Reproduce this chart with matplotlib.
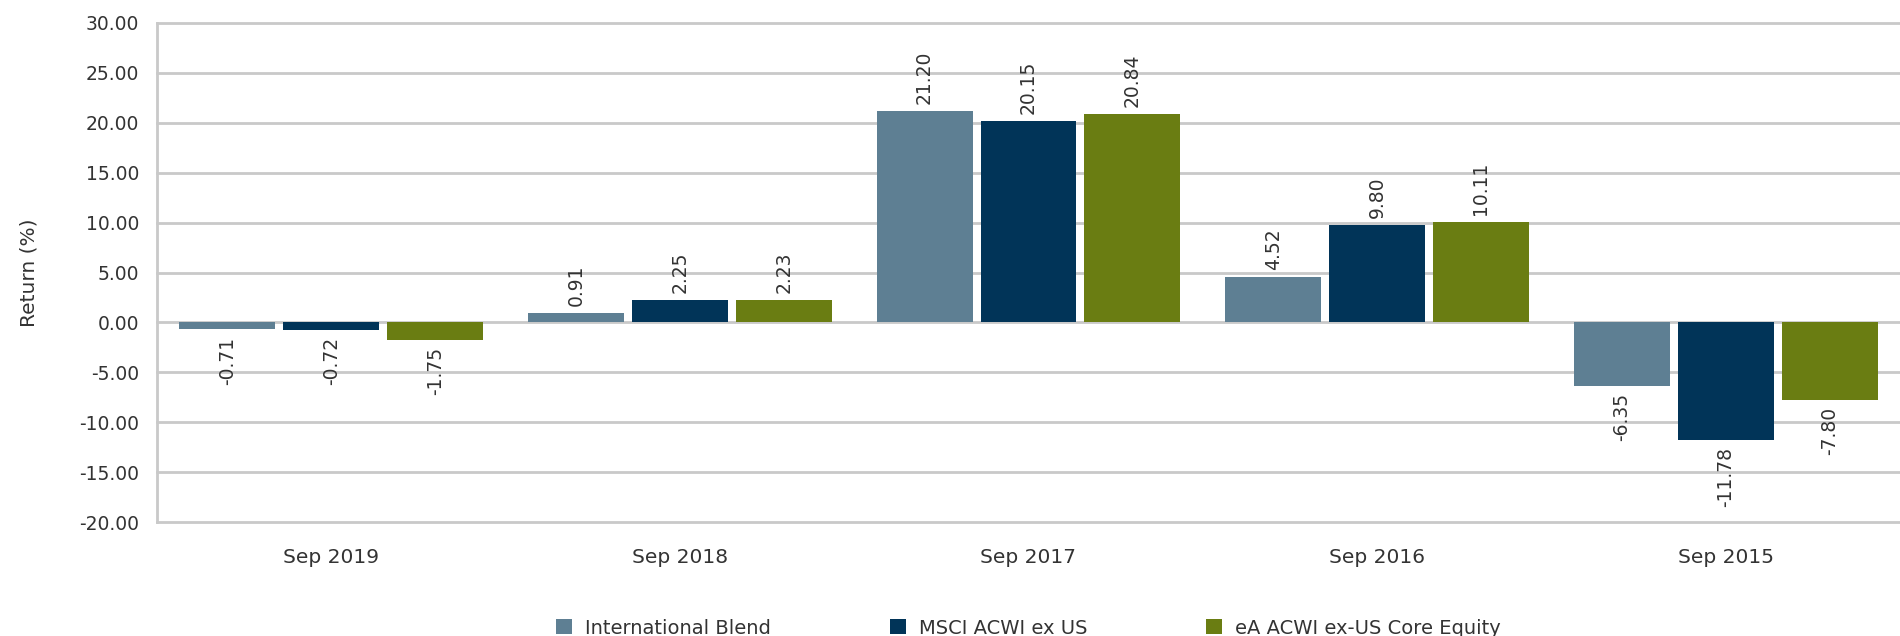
import numpy as np
import matplotlib
matplotlib.use('Agg')
import matplotlib.pyplot as plt
from matplotlib.ticker import MultipleLocator, FormatStrFormatter

periods = ['Sep 2019', 'Sep 2018', 'Sep 2017', 'Sep 2016', 'Sep 2015']
seriesNames = ['International Blend', 'MSCI ACWI ex US', 'eA ACWI ex-US Core Equity']
internationalBlend = [-0.71, 0.91, 21.20, 4.52, -6.35]
msciAcwiExUs = [-0.72, 2.25, 20.15, 9.80, -11.78]
eaAcwiCore = [-1.75, 2.23, 20.84, 10.11, -7.80]
colors = ['#5e7f93', '#013458', '#6a7d12']

textColor = '#333333'
gridColor = '#c9c9c9'

plt.rcParams['font.family'] = ['DejaVu Sans']
plt.rcParams['font.size'] = 13.5

fig = plt.figure(figsize=(19, 6.36), dpi=100)
ax = fig.add_axes([157 / 1900, 1 - 522 / 636, 1 - 157 / 1900, 499 / 636])

x = np.arange(len(periods))
width = 0.275
step = 0.298
allSeries = [internationalBlend, msciAcwiExUs, eaAcwiCore]
for i, values in enumerate(allSeries):
    bars = ax.bar(x + (i - 1) * step, values, width, color=colors[i], label=seriesNames[i], zorder=3)
    ax.bar_label(bars, labels=['%.2f' % v for v in values], rotation=90, padding=5,
                 color=textColor, fontsize=13.5)

ax.set_xlim(-0.5, len(periods) - 0.5)
ax.set_ylim(-20, 30)
ax.yaxis.set_major_locator(MultipleLocator(5))
ax.yaxis.set_major_formatter(FormatStrFormatter('%.2f'))
ax.set_xticks(x)
ax.set_xticklabels(periods)
ax.tick_params(axis='y', length=0, pad=13, colors=textColor, labelsize=13.5)
ax.tick_params(axis='x', length=0, pad=19, colors=textColor, labelsize=14.5)
ax.grid(True, axis='y', color=gridColor, linewidth=2)
for line in ax.get_ygridlines():
    line.set_clip_on(False)
ax.set_axisbelow(True)
for side in ['top', 'right', 'bottom']:
    ax.spines[side].set_visible(False)
ax.spines['left'].set_color(gridColor)
ax.spines['left'].set_linewidth(2)
ax.set_ylabel('Return (%)', color=textColor, fontsize=14.5, labelpad=29)

ax.legend(loc='center', bbox_to_anchor=(0.5, -(628 - 522) / 499), ncol=3, frameon=False,
          handlelength=0.82, handleheight=0.82, handletextpad=0.67, columnspacing=6.1,
          fontsize=14, labelcolor=textColor)

plt.savefig('out.png', dpi=100)
